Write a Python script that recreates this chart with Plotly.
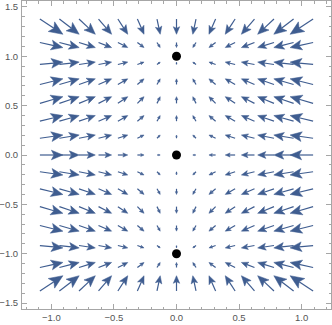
import numpy as np
import plotly.graph_objects as go

# arrow centres (grid of the vector plot)
x_points = [-1.0, -0.857, -0.714, -0.571, -0.429, -0.286, -0.143, 0.0,
            0.143, 0.286, 0.429, 0.571, 0.714, 0.857, 1.0]
y_points = [1.3, 1.114, 0.929, 0.743, 0.557, 0.371, 0.186, 0.0,
            -0.186, -0.371, -0.557, -0.743, -0.929, -1.114, -1.3]

# horizontal component, one value per column
u_by_column = [1.0, 0.86, 0.71, 0.57, 0.43, 0.29, 0.14, 0.0,
               -0.14, -0.29, -0.43, -0.57, -0.71, -0.86, -1.0]
# vertical component, one value per row
v_by_row = [-0.84, -0.28, 0.13, 0.31, 0.37, 0.31, 0.18, 0.0,
            -0.18, -0.31, -0.37, -0.31, -0.13, 0.28, 0.84]

# fixed points
dot_x = [0.0, 0.0, 0.0]
dot_y = [1.0, 0.0, -1.0]

ARROW = "#3F5D90"
FRAME = "#A6A6A6"
W, H = 332, 325
M = dict(l=22, r=1, t=1, b=16)
XR = [-1.235, 1.235]
YR = [-1.56, 1.56]

# pixels per data unit, so the arrow heads keep their shape
kx = (W - M["l"] - M["r"]) / (XR[1] - XR[0])
ky = (H - M["t"] - M["b"]) / (YR[1] - YR[0])
scale = 0.184  # arrow length in data units per unit of field

shaft_x, shaft_y, head_x, head_y = [], [], [], []
for j, y0 in enumerate(y_points):
    for i, x0 in enumerate(x_points):
        dx = scale * u_by_column[i] * kx
        dy = scale * v_by_row[j] * ky
        L = np.hypot(dx, dy)
        if L < 0.3:
            continue
        d = np.array([dx, dy]) / L
        n = np.array([-d[1], d[0]])
        c = np.array([x0 * kx, y0 * ky])
        tail = c - d * L / 2
        tip = c + d * L / 2
        hl, hw = 0.5 * L, 0.21 * L
        base = tip - d * hl
        notch = tip - d * hl * 0.78
        c1 = base + n * hw
        c2 = base - n * hw
        shaft_x += [tail[0] / kx, notch[0] / kx, None]
        shaft_y += [tail[1] / ky, notch[1] / ky, None]
        for p in (tip, c1, notch, c2, tip):
            head_x.append(p[0] / kx)
            head_y.append(p[1] / ky)
        head_x.append(None)
        head_y.append(None)

fig = go.Figure()
fig.add_trace(go.Scatter(
    x=shaft_x, y=shaft_y, mode="lines",
    line=dict(color=ARROW, width=1.2),
    hoverinfo="skip", showlegend=False,
))
fig.add_trace(go.Scatter(
    x=head_x, y=head_y, mode="lines", fill="toself",
    fillcolor=ARROW, line=dict(color=ARROW, width=0.5),
    hoverinfo="skip", showlegend=False,
))
fig.add_trace(go.Scatter(
    x=dot_x, y=dot_y, mode="markers",
    marker=dict(color="black", size=9),
    hoverinfo="skip", showlegend=False,
))

axis = dict(
    showgrid=False, zeroline=False, automargin=False,
    showline=True, linecolor=FRAME, linewidth=1, mirror="ticks",
    ticks="inside", ticklen=5, tickcolor=FRAME, tickwidth=1,
    tickformat=".1f", dtick=0.5, tick0=0,
    tickfont=dict(family="Liberation Sans, Arial, sans-serif", size=9.5, color="#555555"),
    minor=dict(ticks="inside", ticklen=2.5, tickcolor=FRAME, dtick=0.1, tick0=0),
)
fig.update_layout(
    width=W, height=H, margin=M,
    plot_bgcolor="white", paper_bgcolor="white",
    xaxis=dict(axis, range=XR, ticklabelstandoff=0),
    yaxis=dict(axis, range=YR, ticklabelstandoff=1),
)
fig.write_html("out.html", post_script="document.body.style.margin='0';",
               config=dict(displayModeBar=False))
